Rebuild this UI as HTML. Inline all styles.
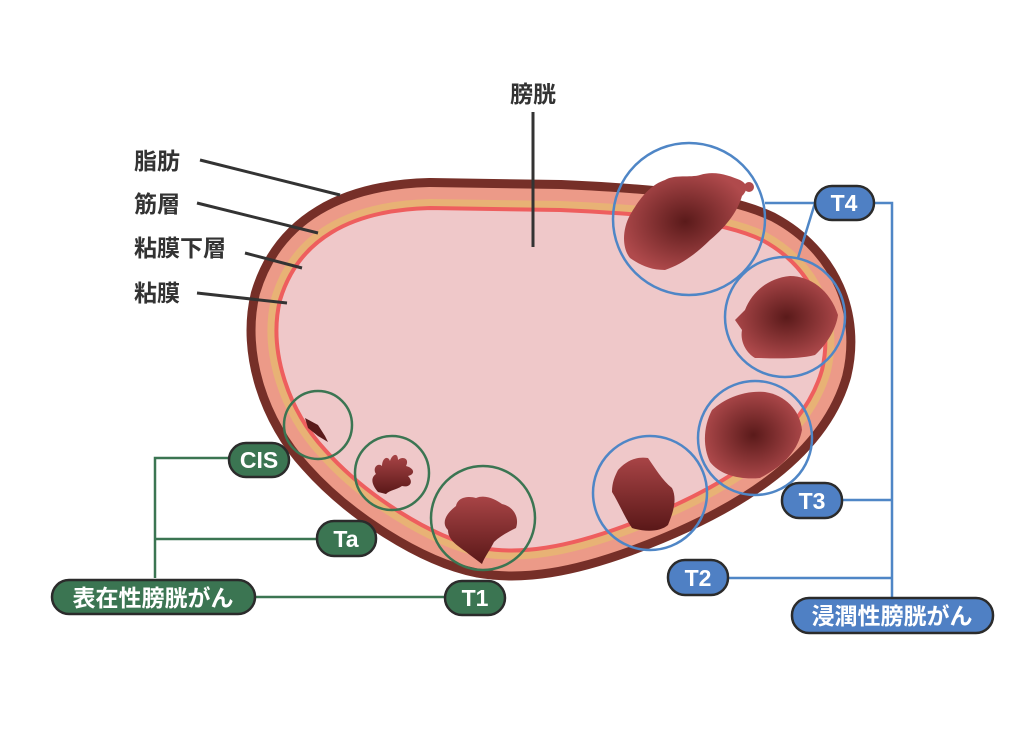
<!DOCTYPE html>
<html><head><meta charset="utf-8"><style>
html,body{margin:0;padding:0;background:#fff;}
svg{display:block;}
text{font-family:"Liberation Sans","Noto Sans CJK JP",sans-serif;font-weight:bold;}
</style></head><body>
<svg width="1024" height="739" viewBox="0 0 1024 739" xmlns="http://www.w3.org/2000/svg">
<defs>
<radialGradient id="tg" cx="50%" cy="50%" r="55%">
<stop offset="0" stop-color="#5a1a1a"/><stop offset="1" stop-color="#b04a4c"/></radialGradient>
<linearGradient id="lg" x1="0" y1="0" x2="0" y2="1">
<stop offset="0" stop-color="#a84446"/><stop offset="1" stop-color="#5a1818"/></linearGradient>
<path id="P" d="M280,300 C298,240 350,210 430,208 L560,210 C650,214 720,220 762,240 C814,268 834,320 822,370 C802,440 722,490 622,527 C567,547 522,555 482,548 C432,538 365,495 325,450 C288,410 268,350 280,300 Z"/>
</defs>
<use href="#P" fill="none" stroke="#762f28" stroke-width="60" stroke-linejoin="round"/>
<use href="#P" fill="none" stroke="#ec9a88" stroke-width="42"/>
<use href="#P" fill="none" stroke="#e8b275" stroke-width="18"/>
<use href="#P" fill="#efc8c9"/>
<use href="#P" fill="none" stroke="#ee5e5e" stroke-width="4"/>

<!-- tumors -->
<path d="M305,418 L318,425 L325,436 L328,442 L318,436 L308,428 Z" fill="#5a1a1a"/>
<path d="M378,492 C372,485 370,478 376,474 C372,468 378,462 382,466 C382,458 388,455 390,461 C392,454 398,452 398,460 C402,456 410,458 406,466 C414,468 416,474 408,476 C414,482 410,488 402,486 C396,490 390,490 386,494 Z" fill="url(#lg)"/>
<path d="M470,555 C462,548 448,542 448,530 C440,522 448,512 456,506 C458,496 470,496 476,498 C486,494 496,500 502,504 C512,506 520,516 516,528 C508,532 500,536 494,542 C490,550 484,558 482,564 Z" fill="url(#lg)"/>
<path d="M630,215 C640,198 650,185 665,180 C675,174 690,178 700,175 C715,170 730,176 740,180 C748,184 748,190 742,196 C738,210 728,225 710,240 C695,255 680,265 665,270 C650,270 640,265 630,258 C622,248 622,230 630,215 Z" fill="url(#tg)"/>
<circle cx="749" cy="187" r="5" fill="#b04a4c"/>
<path d="M745,310 C752,292 768,278 790,276 C810,276 830,290 838,315 C836,330 826,345 815,355 C795,360 770,358 755,358 C745,352 740,340 742,330 L735,320 Z" fill="url(#tg)"/>
<path d="M712,410 C725,398 745,390 765,392 C785,395 800,410 802,430 C798,450 785,465 760,478 C740,480 720,475 710,462 C702,445 704,425 712,410 Z" fill="url(#tg)"/>
<path d="M618,470 C625,462 635,456 648,458 C655,468 662,480 672,488 C678,500 672,515 668,525 C660,532 645,532 632,528 C625,518 620,505 612,492 C612,482 615,476 618,470 Z" fill="url(#lg)"/>

<!-- circles -->
<g fill="none" stroke-width="2.5">
<circle cx="318" cy="425" r="34" stroke="#3b7552"/>
<circle cx="392" cy="473" r="37" stroke="#3b7552"/>
<circle cx="483" cy="518" r="52" stroke="#3b7552"/>
<circle cx="689" cy="219" r="76" stroke="#4f86c6"/>
<circle cx="785" cy="317" r="60" stroke="#4f86c6"/>
<circle cx="755" cy="438" r="57" stroke="#4f86c6"/>
<circle cx="650" cy="493" r="57" stroke="#4f86c6"/>
</g>

<!-- label lines -->
<g stroke="#333" stroke-width="3">
<line x1="200" y1="160" x2="340" y2="195"/>
<line x1="197" y1="203" x2="318" y2="233"/>
<line x1="245" y1="253" x2="302" y2="268"/>
<line x1="197" y1="293" x2="287" y2="303"/>
<line x1="533" y1="112" x2="533" y2="247"/>
</g>
<g font-size="23" fill="#333">
<text x="134" y="169">脂肪</text>
<text x="134" y="212">筋層</text>
<text x="134" y="256">粘膜下層</text>
<text x="134" y="301">粘膜</text>
<text x="510" y="102">膀胱</text>
</g>

<!-- green connectors -->
<g stroke="#3b7552" stroke-width="2.5" fill="none">
<polyline points="230,458 155,458 155,578"/>
<line x1="155" y1="539" x2="318" y2="539"/>
<line x1="254" y1="597" x2="446" y2="597"/>
</g>
<!-- blue connectors -->
<g stroke="#4f86c6" stroke-width="2.5" fill="none">
<polyline points="874,203 892,203 892,600"/>
<line x1="842" y1="500" x2="892" y2="500"/>
<line x1="728" y1="578" x2="892" y2="578"/>
<line x1="815" y1="203" x2="765" y2="203"/>
<line x1="815" y1="203" x2="798" y2="258"/>
</g>

<!-- pills -->
<g stroke="#2b2b2b" stroke-width="2.5">
<rect x="229" y="443" width="60" height="34" rx="17" fill="#3b7552"/>
<rect x="317" y="521" width="59" height="35" rx="17" fill="#3b7552"/>
<rect x="445" y="581" width="60" height="34" rx="17" fill="#3b7552"/>
<rect x="52" y="580" width="203" height="34" rx="17" fill="#3b7552"/>
<rect x="815" y="186" width="59" height="34" rx="17" fill="#4f80c4"/>
<rect x="782" y="483" width="60" height="35" rx="17" fill="#4f80c4"/>
<rect x="668" y="560" width="60" height="35" rx="17" fill="#4f80c4"/>
<rect x="792" y="598" width="201" height="35" rx="17" fill="#4f80c4"/>
</g>
<g fill="#fff" font-size="23" text-anchor="middle">
<text x="259" y="468">CIS</text>
<text x="346" y="547">Ta</text>
<text x="475" y="606">T1</text>
<text x="153" y="606">表在性膀胱がん</text>
<text x="844" y="211">T4</text>
<text x="812" y="509">T3</text>
<text x="698" y="586">T2</text>
<text x="892" y="624">浸潤性膀胱がん</text>
</g>
</svg>
</body></html>
